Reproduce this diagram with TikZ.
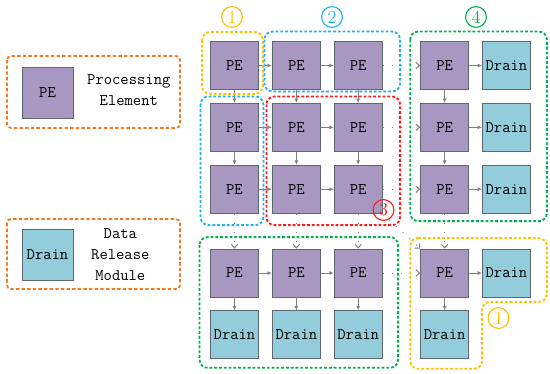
\documentclass[tikz,border=0pt]{standalone}
\usepackage{xcolor}
\usepackage{tikz}
\usetikzlibrary{
    arrows.meta,
    positioning,
    calc
}

\definecolor{peviolet}{HTML}{A797C1}
\definecolor{drainblue}{HTML}{93CDDC}
\definecolor{boxgray}{HTML}{5E6870}
\definecolor{grpyellow}{HTML}{FFC000}
\definecolor{grpblue}{HTML}{1FB0F0}
\definecolor{grpred}{HTML}{FF1A1A}
\definecolor{grpgreen}{HTML}{00B050}
\definecolor{legorange}{HTML}{F47920}

\begin{document}
\begin{tikzpicture}[
    x=0.25mm, y=-0.25mm,
    node distance=3.25mm and 3.25mm,
    pebox/.style={
        draw=boxgray,
        fill=peviolet,
        line width=0.6pt,
        minimum size=12mm,
        inner sep=0pt,
        font=\fontsize{11.5}{13}\selectfont\ttfamily
    },
    drainbox/.style={pebox, fill=drainblue},
    legtext/.style={align=center, font=\fontsize{11.5}{15}\selectfont\ttfamily},
    arrowlink/.style={draw=gray, line width=0.6pt, -{Latex[length=1.1mm, width=1mm]}},
    dotlink/.style={draw=gray, line width=0.7pt, dash pattern=on 0.7pt off 5.8pt,
        -{Straight Barb[length=0.9mm, width=1.6mm]}},
    groupbox/.style={line width=1.3pt, dash pattern=on 2pt off 1.4pt, rounded corners=2mm},
    grouptag/.style={circle, draw, line width=0.8pt, minimum size=5.2mm, inner sep=0pt,
        font=\fontsize{13}{13}\selectfont}
]

\useasboundingbox (0,0) rectangle (550,373);

% legend
\node[pebox, minimum size=12.75mm] (legpe) at (47.5,92.5) {PE};
\node[legtext, right=2.2mm of legpe, yshift=0.6mm] (legpetext) {Processing\\Element};
\node[drainbox, minimum size=12.75mm] (legdrain) at (47.5,254.5) {Drain};
\node[legtext, right=3.2mm of legdrain] (legdraintext) {Data\\Release\\Module};

\draw[legorange, line width=1.3pt, dash pattern=on 2.4pt off 1.6pt, rounded corners=1mm]
    (7,56) rectangle (180,128);
\draw[legorange, line width=1.3pt, dash pattern=on 2.4pt off 1.6pt, rounded corners=1mm]
    (7,219) rectangle (180,289);

% processing array
\node[pebox] (pe11) at (234.5,65.5) {PE};
\node[pebox, right=of pe11] (pe12) {PE};
\node[pebox, right=of pe12] (pe13) {PE};
\node[pebox, right=9.4mm of pe13] (pe14) {PE};
\node[drainbox, right=of pe14] (dr15) {Drain};

\node[pebox, below=of pe11] (pe21) {PE};
\node[pebox, below=of pe12] (pe22) {PE};
\node[pebox, below=of pe13] (pe23) {PE};
\node[pebox, below=of pe14] (pe24) {PE};
\node[drainbox, below=of dr15] (dr25) {Drain};

\node[pebox, below=of pe21] (pe31) {PE};
\node[pebox, below=of pe22] (pe32) {PE};
\node[pebox, below=of pe23] (pe33) {PE};
\node[pebox, below=of pe24] (pe34) {PE};
\node[drainbox, below=of dr25] (dr35) {Drain};

\node[pebox, below=8.75mm of pe31] (pe41) {PE};
\node[pebox, below=8.75mm of pe32] (pe42) {PE};
\node[pebox, below=8.75mm of pe33] (pe43) {PE};
\node[pebox, below=8.75mm of pe34] (pe44) {PE};
\node[drainbox, right=of pe44] (dr45) {Drain};

\node[drainbox, below=of pe41] (dr51) {Drain};
\node[drainbox, below=of pe42] (dr52) {Drain};
\node[drainbox, below=of pe43] (dr53) {Drain};
\node[drainbox, below=of pe44] (dr54) {Drain};

% connections
\draw[arrowlink] (pe11) -- (pe12);
\draw[arrowlink] (pe12) -- (pe13);
\draw[arrowlink] (pe21) -- (pe22);
\draw[arrowlink] (pe22) -- (pe23);
\draw[arrowlink] (pe31) -- (pe32);
\draw[arrowlink] (pe32) -- (pe33);
\draw[arrowlink] (pe41) -- (pe42);
\draw[arrowlink] (pe42) -- (pe43);

\draw[arrowlink] (pe11) -- (pe21);
\draw[arrowlink] (pe21) -- (pe31);
\draw[arrowlink] (pe12) -- (pe22);
\draw[arrowlink] (pe22) -- (pe32);
\draw[arrowlink] (pe13) -- (pe23);
\draw[arrowlink] (pe23) -- (pe33);
\draw[arrowlink] (pe14) -- (pe24);
\draw[arrowlink] (pe24) -- (pe34);

\draw[arrowlink] (pe14) -- (dr15);
\draw[arrowlink] (pe24) -- (dr25);
\draw[arrowlink] (pe34) -- (dr35);
\draw[arrowlink] (pe44) -- (dr45);

\draw[arrowlink] (pe41) -- (dr51);
\draw[arrowlink] (pe42) -- (dr52);
\draw[arrowlink] (pe43) -- (dr53);
\draw[arrowlink] (pe44) -- (dr54);

\draw[dotlink] (pe13) -- (pe14);
\draw[dotlink] (pe23) -- (pe24);
\draw[dotlink] (pe33) -- (pe34);
\draw[dotlink] (pe43) -- (pe44);
\draw[dotlink] (pe31) -- (pe41);
\draw[dotlink] (pe32) -- (pe42);
\draw[dotlink] (pe33) -- (pe43);
\draw[dotlink] (pe34) -- (pe44);
\draw[dotlink] (pe33.south east) -- (pe44.north west);

% groups
\draw[groupbox, grpyellow] ($(pe11.north west)+(-8,-9)$) rectangle ($(pe11.south east)+(4,4)$);
\draw[groupbox, grpblue] ($(pe12.north west)+(-7.5,-9.5)$) rectangle ($(pe13.south east)+(17.5,1.5)$);
\draw[groupbox, grpblue] ($(pe21.north west)+(-9.5,-6.5)$) rectangle ($(pe31.south east)+(4.5,11.5)$);
\draw[groupbox, grpred] ($(pe22.north west)+(-5.5,-6.5)$) rectangle ($(pe33.south east)+(17.5,11.5)$);
\draw[groupbox, grpgreen] ($(pe14.north west)+(-10,-9.5)$) rectangle ($(dr35.south east)+(16,7.5)$);
\draw[groupbox, grpgreen] ($(pe41.north west)+(-10.5,-11.5)$) rectangle ($(dr53.south east)+(15.5,8.5)$);
\draw[groupbox, grpyellow]
    ($(pe44.north west)+(-10,-10.5)$) -- ($(dr45.north east)+(16,-10.5)$)
    -- ($(dr45.south east)+(16,4.5)$) -- ($(dr45.south west)+(0,4.5)$)
    -- ($(dr54.south east)+(13,9.5)$) -- ($(dr54.south west)+(-10,9.5)$) -- cycle;

\node[grouptag, grpyellow] (tagone) at (232,17) {1};
\node[grouptag, grpblue] (tagtwo) at (332,17) {2};
\node[grouptag, grpred] (tagthree) at (383.5,210) {3};
\node[grouptag, grpgreen] (tagfour) at (476,17) {4};
\node[grouptag, grpyellow] (tagfive) at (498.5,318) {1};

\end{tikzpicture}
\end{document}
